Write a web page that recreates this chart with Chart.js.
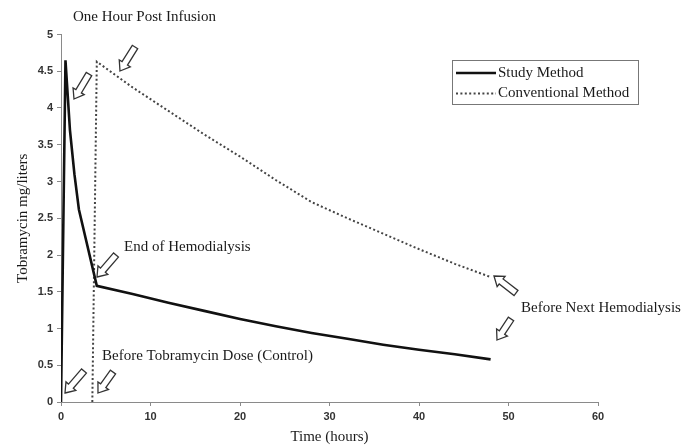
<!DOCTYPE html>
<html>
<head>
<meta charset="utf-8">
<script src="https://cdn.jsdelivr.net/npm/chart.js@4.4.1/dist/chart.umd.min.js"></script>
<style>
  html, body { margin: 0; padding: 0; background: #fff; }
  canvas { display: block; }
</style>
</head>
<body>
<canvas id="chart" width="696" height="448"></canvas>
<script>
// values
const studyHours = [0, 0.5, 1, 1.5, 2, 4, 8, 12, 16, 20, 24, 28, 32, 36, 40, 44, 48]
const studyLevels = [0, 4.65, 3.7, 3.1, 2.62, 1.58, 1.47, 1.35, 1.24, 1.13, 1.03, 0.94, 0.86, 0.78, 0.71, 0.65, 0.58]
const conventionalHours = [3.5, 4, 8, 12, 16, 20, 24, 28, 32, 36, 40, 44, 48]
const conventionalLevels = [0, 4.63, 4.28, 3.96, 3.64, 3.34, 3.02, 2.72, 2.5, 2.29, 2.08, 1.88, 1.7]
const hourTicks = [0, 10, 20, 30, 40, 50, 60]
const levelTicks = [0, 0.5, 1, 1.5, 2, 2.5, 3, 3.5, 4, 4.5, 5]

const serif = "'Liberation Serif', 'Times New Roman', serif"
const sans = "'Liberation Sans', Arial, sans-serif"
const ink = "#1a1a1a"
const axisGrey = "#8a8a8a"

const toPoints = (xs, ys) => xs.map((x, i) => ({ x, y: ys[i] }))

// text notes and hollow arrows drawn on top of the plot (pixel positions)
const notes = [
  { text: "One Hour Post Infusion", x: 73, y: 17 },
  { text: "End of Hemodialysis", x: 124, y: 247 },
  { text: "Before Tobramycin Dose (Control)", x: 102, y: 356 },
  { text: "Before Next Hemodialysis", x: 521, y: 308 }
]
const arrows = [
  { tip: [74, 99], tail: [89, 74] },
  { tip: [120, 71], tail: [135, 47] },
  { tip: [97, 277], tail: [116, 255] },
  { tip: [65, 393], tail: [84, 371] },
  { tip: [98, 393], tail: [113, 372] },
  { tip: [494, 276], tail: [516, 293] },
  { tip: [497, 340], tail: [511, 319] }
]

function hollowArrow(ctx, tip, tail) {
  const [tx, ty] = tip
  const [fx, fy] = tail
  const len = Math.hypot(tx - fx, ty - fy)
  const head = 9, hw = 6.5, sw = 3.2
  ctx.save()
  ctx.translate(tx, ty)
  ctx.rotate(Math.atan2(ty - fy, tx - fx))
  ctx.beginPath()
  ctx.moveTo(0, 0)
  ctx.lineTo(-head, -hw)
  ctx.lineTo(-head, -sw)
  ctx.lineTo(-len, -sw)
  ctx.lineTo(-len, sw)
  ctx.lineTo(-head, sw)
  ctx.lineTo(-head, hw)
  ctx.closePath()
  ctx.fillStyle = "#fff"
  ctx.fill()
  ctx.strokeStyle = "#333"
  ctx.lineWidth = 1.3
  ctx.stroke()
  ctx.restore()
}

const notesPlugin = {
  id: "notes",
  afterDraw(chart) {
    const ctx = chart.ctx
    ctx.save()
    ctx.font = "15px " + serif
    ctx.fillStyle = ink
    ctx.textBaseline = "middle"
    ctx.textAlign = "left"
    notes.forEach(n => ctx.fillText(n.text, n.x, n.y))
    arrows.forEach(a => hollowArrow(ctx, a.tip, a.tail))

    // boxed legend in the upper right
    const box = { x: 452.5, y: 60.5, w: 186, h: 44 }
    ctx.strokeStyle = "#777"
    ctx.lineWidth = 1
    ctx.strokeRect(box.x, box.y, box.w, box.h)
    chart.data.datasets.forEach((ds, i) => {
      const y = 73 + i * 20.5
      ctx.beginPath()
      ctx.setLineDash(ds.borderDash || [])
      ctx.strokeStyle = ds.borderColor
      ctx.lineWidth = ds.borderWidth
      ctx.moveTo(456, y)
      ctx.lineTo(496, y)
      ctx.stroke()
      ctx.setLineDash([])
      ctx.fillStyle = ink
      ctx.fillText(ds.label, 498, y)
    })
    ctx.restore()
  }
}

const tickFont = { family: sans, size: 11, weight: "bold" }
const plainNumber = v => String(v)

new Chart(document.getElementById("chart"), {
  type: "scatter",
  data: {
    datasets: [
      {
        label: "Study Method",
        data: toPoints(studyHours, studyLevels),
        showLine: true,
        borderColor: "#111",
        borderWidth: 2.6,
        pointRadius: 0,
        tension: 0
      },
      {
        label: "Conventional Method",
        data: toPoints(conventionalHours, conventionalLevels),
        showLine: true,
        borderColor: "#444",
        borderWidth: 2,
        borderDash: [2, 2.4],
        pointRadius: 0,
        tension: 0
      }
    ]
  },
  options: {
    responsive: false,
    animation: false,
    layout: { padding: { left: 0, top: 34.5, right: 98, bottom: 0 } },
    plugins: {
      legend: { display: false },
      tooltip: { enabled: false }
    },
    scales: {
      x: {
        type: "linear",
        min: 0,
        max: 60,
        afterBuildTicks: s => { s.ticks = hourTicks.map(value => ({ value })) },
        afterFit: s => { s.height = 46 },
        border: { color: axisGrey, width: 1 },
        grid: { drawOnChartArea: false, drawTicks: true, tickLength: 4, color: axisGrey },
        ticks: { font: tickFont, color: "#333", padding: 4, maxRotation: 0, callback: plainNumber },
        title: {
          display: true,
          text: "Time (hours)",
          font: { family: serif, size: 15 },
          color: ink,
          padding: { top: 0, bottom: 2 }
        }
      },
      y: {
        min: 0,
        max: 5,
        afterBuildTicks: s => { s.ticks = levelTicks.map(value => ({ value })) },
        afterFit: s => { s.width = 61 },
        border: { color: axisGrey, width: 1 },
        grid: { drawOnChartArea: false, drawTicks: true, tickLength: 4, color: axisGrey },
        ticks: { font: tickFont, color: "#333", padding: 4, callback: plainNumber },
        title: {
          display: true,
          text: "Tobramycin mg/liters",
          font: { family: serif, size: 15 },
          color: ink,
          padding: { top: 14, bottom: 0 }
        }
      }
    }
  },
  plugins: [notesPlugin]
})
</script>
</body>
</html>
